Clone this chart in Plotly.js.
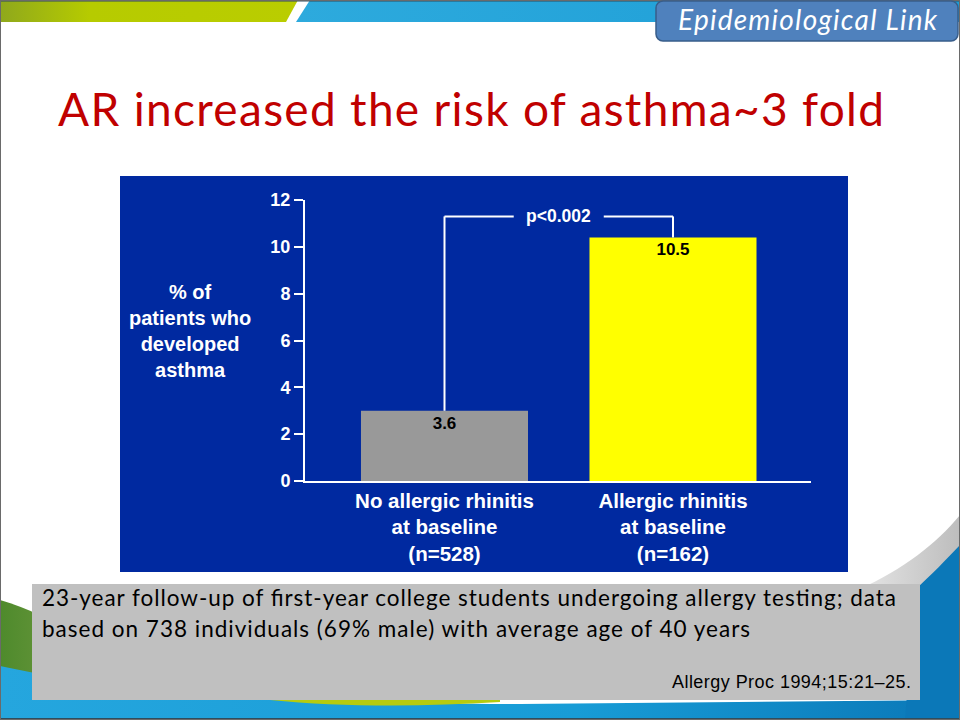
<!DOCTYPE html>
<html>
<head>
<meta charset="utf-8">
<script src="https://cdn.plot.ly/plotly-3.0.1.min.js"></script>
<style>
  html, body { margin: 0; padding: 0; background: #ffffff; }
  #slide { position: relative; width: 960px; height: 720px; overflow: hidden; background: #ffffff; }
  #bg { position: absolute; left: 0; top: 0; }
  #chart { position: absolute; left: 120px; top: 176px; width: 728px; height: 396px; }
</style>
</head>
<body>
<div id="slide">
  <svg id="bg" width="960" height="720" xmlns="http://www.w3.org/2000/svg">
    <defs>
      <linearGradient id="gGreen" x1="0" x2="1" y1="0" y2="0">
        <stop offset="0" stop-color="#8FA81C"/>
        <stop offset="0.3" stop-color="#B6CB00"/>
        <stop offset="1" stop-color="#BACD00"/>
      </linearGradient>
      <linearGradient id="gBlueTop" x1="0" x2="1" y1="0" y2="0">
        <stop offset="0" stop-color="#2DAADD"/>
        <stop offset="1" stop-color="#1C9DD6"/>
      </linearGradient>
      <linearGradient id="gBottom" x1="0" x2="1" y1="0" y2="0">
        <stop offset="0" stop-color="#25A6DE"/>
        <stop offset="0.6" stop-color="#189CD6"/>
        <stop offset="1" stop-color="#0A77B7"/>
      </linearGradient>
      <linearGradient id="gGray" x1="0" x2="1" y1="0" y2="0">
        <stop offset="0" stop-color="#E6E6E6"/>
        <stop offset="1" stop-color="#BDBDBD"/>
      </linearGradient>
      <linearGradient id="gLeftGreen" x1="0" x2="1" y1="0" y2="0">
        <stop offset="0" stop-color="#4E8A2C"/>
        <stop offset="1" stop-color="#5F9236"/>
      </linearGradient>
    </defs>
    <!-- top bands -->
    <polygon points="0,0 298,0 286,22 0,22" fill="url(#gGreen)"/>
    <polygon points="310,0 960,0 960,22 296,22" fill="url(#gBlueTop)"/>
    <rect x="0" y="0" width="960" height="1.5" fill="#2F4D5E"/>
    <!-- bottom decorations -->
    <path d="M0,600 C14,604 28,609 40,616 L40,690 L0,668 Z" fill="url(#gLeftGreen)"/>
    <path d="M0,666 C120,692 260,704 520,704 L960,700 L960,720 L0,720 Z" fill="url(#gBottom)"/>
    <path d="M270,700 C340,707 420,707 500,702 L500,700 Z" fill="#B5CB10"/>
    <path d="M960,515 C935,545 905,568 858,590 L960,590 Z" fill="url(#gGray)"/>
    <path d="M960,545 C946,560 932,574 915,590 L905,720 L960,720 Z" fill="#0B78B8"/>
    <rect x="0" y="718" width="960" height="2" fill="#2F4D5E"/>
    <rect x="0.5" y="0.5" width="959" height="719" fill="none" stroke="#6A6A6A" stroke-width="1"/>
    <!-- section tag -->
    <rect x="656" y="1" width="302" height="40" rx="7" ry="7" fill="#4F81BD" stroke="#385D8A" stroke-width="1.5"/>
    <text id="tagText" x="678" y="30" fill="#ffffff" font-family="Lato, 'Open Sans', sans-serif" font-style="italic" font-size="28" textLength="259" lengthAdjust="spacing">Epidemiological  Link</text>
    <!-- slide title -->
    <text id="titleText" x="58" y="126" fill="#C00000" font-family="Lato, 'Open Sans', sans-serif" font-size="46" textLength="826" lengthAdjust="spacing">AR increased the risk of asthma~3 fold</text>
    <!-- note box -->
    <rect x="32" y="584" width="888" height="116" fill="#C0C0C0"/>
    <text x="42" y="606" fill="#000000" font-family="Lato, 'Open Sans', sans-serif" font-size="22.5" textLength="854" lengthAdjust="spacing">23-year follow-up of first-year college students undergoing allergy testing; data</text>
    <text x="42" y="637" fill="#000000" font-family="Lato, 'Open Sans', sans-serif" font-size="22.5" textLength="708" lengthAdjust="spacing">based on 738 individuals (69% male) with average age of 40 years</text>
    <text x="911" y="688" text-anchor="end" fill="#000000" font-family="'Liberation Sans', Arial, sans-serif" font-size="18" textLength="239" lengthAdjust="spacing">Allergy Proc 1994;15:21–25.</text>
  </svg>
  <div id="chart"></div>
</div>
<script>
// ---- data ----
const categories = ["No allergic rhinitis<br>at baseline<br>(n=528)", "Allergic rhinitis<br>at baseline<br>(n=162)"];
const barHeights = [3.0, 10.4];          // bar heights as drawn in the figure
const valueLabels = ["3.6", "10.5"];     // printed values
const barColors = ["#999999", "#FFFF00"];
const yTickValues = [0, 2, 4, 6, 8, 10, 12];
const yTitle = "% of<br>patients who<br>developed<br>asthma";
const pValueText = "p&lt;0.002";
const bracketLevel = 11.3;

// ---- style ----
const BG = "#0029A0";
const WHITE = "#ffffff";
const FONT = "'Liberation Sans', Arial, sans-serif";
const gapHalf = 0.197;

const trace = {
  type: "bar",
  x: categories,
  y: barHeights,
  width: 0.731,
  marker: { color: barColors, line: { width: 0 } },
  text: valueLabels,
  textposition: "inside",
  insidetextanchor: "end",
  textangle: 0,
  constraintext: "none",
  textfont: { family: FONT, size: 17, color: "#000000", weight: "bold" },
  hoverinfo: "skip"
};

const lineStyle = { color: WHITE, width: 2 };
const shapes = [
  { type: "line", xref: "x", yref: "y", x0: 0, x1: 0, y0: barHeights[0], y1: bracketLevel, line: lineStyle },
  { type: "line", xref: "x", yref: "y", x0: 0, x1: 0.5 - gapHalf, y0: bracketLevel, y1: bracketLevel, line: lineStyle },
  { type: "line", xref: "x", yref: "y", x0: 0.5 + gapHalf, x1: 1, y0: bracketLevel, y1: bracketLevel, line: lineStyle },
  { type: "line", xref: "x", yref: "y", x0: 1, x1: 1, y0: barHeights[1], y1: bracketLevel, line: lineStyle }
];

const annotations = [
  { xref: "x", yref: "y", x: 0.5, y: bracketLevel, text: pValueText, showarrow: false,
    xanchor: "center", yanchor: "middle",
    font: { family: FONT, size: 17.5, color: WHITE, weight: "bold" } },
  { xref: "paper", yref: "paper", x: -0.227, y: 0.535, text: yTitle, showarrow: false,
    xanchor: "center", yanchor: "middle", align: "center",
    font: { family: FONT, size: 20, color: WHITE, weight: "bold" } }
];

const layout = {
  width: 728,
  height: 396,
  margin: { l: 185, r: 37, t: 24, b: 91, pad: 0 },
  paper_bgcolor: BG,
  plot_bgcolor: BG,
  showlegend: false,
  xaxis: {
    type: "category",
    range: [-0.6105, 1.604],
    showline: true, linecolor: WHITE, linewidth: 2,
    ticks: "", showgrid: false, zeroline: false,
    tickfont: { family: FONT, size: 20.5, color: WHITE, weight: "bold" },
    fixedrange: true
  },
  yaxis: {
    range: [0, 12],
    tickmode: "array",
    tickvals: yTickValues,
    showline: true, linecolor: WHITE, linewidth: 2,
    ticks: "outside", ticklen: 9, tickwidth: 2, tickcolor: WHITE,
    showgrid: false, zeroline: false,
    tickfont: { family: FONT, size: 18, color: WHITE, weight: "bold" },
    fixedrange: true
  },
  shapes: shapes,
  annotations: annotations
};

Plotly.newPlot("chart", [trace], layout, { displayModeBar: false, staticPlot: true });
</script>
</body>
</html>
